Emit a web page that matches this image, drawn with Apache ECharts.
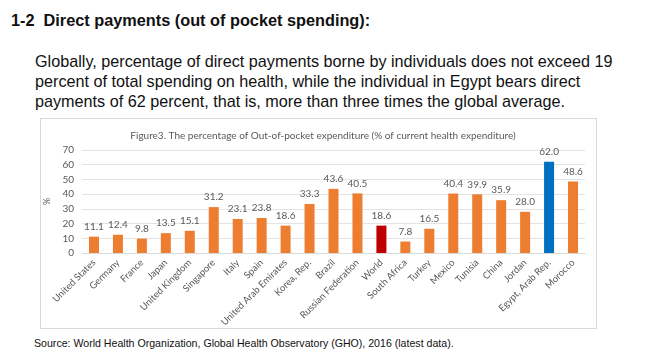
<!DOCTYPE html>
<html>
<head>
<meta charset="utf-8">
<script src="https://cdn.jsdelivr.net/npm/echarts@6/dist/echarts.min.js"></script>
<style>
  body { margin: 0; width: 650px; height: 353px; background: #fff; position: relative; overflow: hidden; font-family: "Liberation Sans", Arial, sans-serif; color: #111; }
  .abs { position: absolute; white-space: nowrap; }
  #head { left: 11px; top: 11px; font-size: 16.3px; line-height: 18px; font-weight: bold; }
  #para { left: 35px; top: 51px; font-size: 16.2px; line-height: 20px; }
  #box { left: 40px; top: 118px; width: 555px; height: 209px; border: 1px solid #d9d9d9; }
  #src { left: 34px; top: 336px; font-size: 10.6px; line-height: 14px; }
  #main { position: absolute; left: 0; top: 0; width: 650px; height: 353px; }
</style>
</head>
<body>
<div class="abs" id="head">1-2&nbsp;&nbsp;Direct payments (out of pocket spending):</div>
<div class="abs" id="para">Globally, percentage of direct payments borne by individuals does not exceed 19<br>percent of total spending on health, while the individual in Egypt bears direct<br>payments of 62 percent, that is, more than three times the global average.</div>
<div class="abs" id="box"></div>
<div class="abs" id="src">Source: World Health Organization, Global Health Observatory (GHO), 2016 (latest data).</div>
<div id="main"></div>
<script>
// values
var countries = ['United States', 'Germany', 'France', 'Japan', 'United Kingdom', 'Singapore', 'Italy', 'Spain',
  'United Arab Emirates', 'Korea, Rep.', 'Brazil', 'Russian Federation', 'World', 'South Africa', 'Turkey',
  'Mexico', 'Tunisia', 'China', 'Jordan', 'Egypt, Arab Rep.', 'Morocco'];
var oopShare = [11.1, 12.4, 9.8, 13.5, 15.1, 31.2, 23.1, 23.8, 18.6, 33.3, 43.6, 40.5, 18.6, 7.8, 16.5,
  40.4, 39.9, 35.9, 28.0, 62.0, 48.6];
var yTicks = [0, 10, 20, 30, 40, 50, 60, 70];

var myChart = echarts.init(document.getElementById('main'), null, { renderer: 'canvas' });

function barColor(name) {
  if (name == 'World') return '#C00000';
  if (name == 'Egypt, Arab Rep.') return '#0070C0';
  return '#ED7D31';
}

var option = {
  textStyle: { fontFamily: 'Lato' },
  title: {
    text: 'Figure3. The percentage of Out-of-pocket expenditure (% of current health expenditure)',
    left: 318,
    textAlign: 'center',
    top: 126,
    textStyle: { fontFamily: 'Lato', fontSize: 10, fontWeight: 'normal', color: '#595959' }
  },
  grid: { left: 82, right: 65, top: 150, bottom: 100 },
  xAxis: {
    type: 'category',
    data: countries,
    axisTick: { show: false },
    axisLine: { lineStyle: { color: '#d9d9d9' } },
    axisLabel: { rotate: 45, interval: 0, margin: 8, fontSize: 9.5, color: '#595959', fontFamily: 'Lato' }
  },
  yAxis: {
    type: 'value',
    min: yTicks[0],
    max: yTicks[yTicks.length - 1],
    interval: 10,
    name: '%',
    nameLocation: 'middle',
    nameGap: 24,
    nameTextStyle: { fontSize: 9, color: '#595959', fontFamily: 'Lato' },
    axisLabel: { margin: 8, fontSize: 10, color: '#595959', fontFamily: 'Lato' },
    splitLine: { lineStyle: { color: '#e4e4e4' } }
  },
  series: [
    {
      type: 'bar',
      barWidth: 10,
      data: oopShare.map(function (v, i) {
        return { value: v, itemStyle: { color: barColor(countries[i]) } };
      }),
      label: {
        show: true,
        position: 'top',
        distance: 5,
        fontSize: 10,
        color: '#595959',
        fontFamily: 'Lato',
        formatter: function (p) { return p.value.toFixed(1); }
      }
    }
  ],
  animation: false
};

myChart.setOption(option);
</script>
</body>
</html>
